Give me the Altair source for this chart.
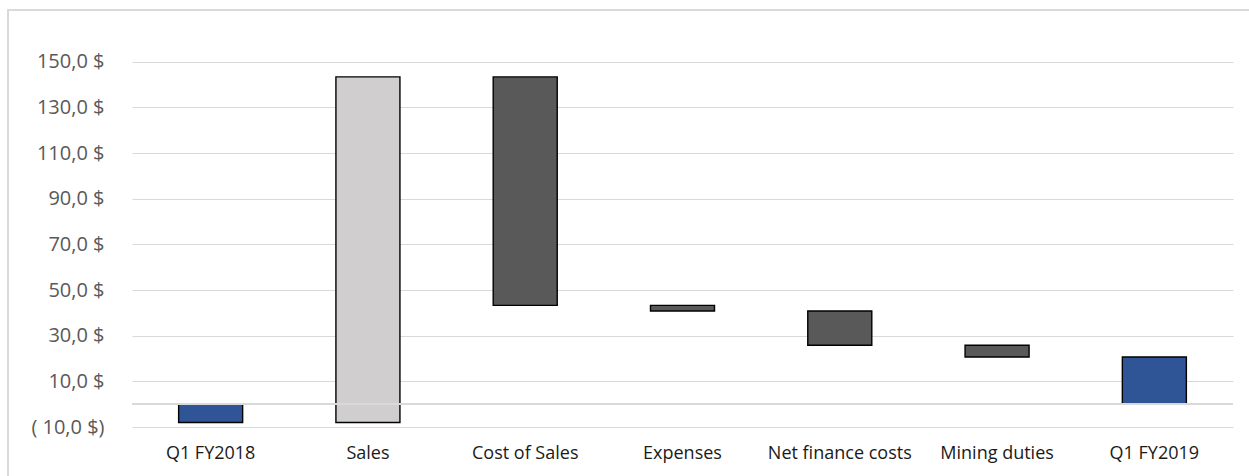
import altair as alt
import pandas as pd

categories = ["Q1 FY2018", "Sales", "Cost of Sales", "Expenses",
              "Net finance costs", "Mining duties", "Q1 FY2019"]
bar_start = [0.0, -8.0, 143.4, 43.3, 40.8, 25.8, 0.0]
bar_end = [-8.0, 143.4, 43.3, 40.8, 25.8, 20.7, 20.7]
kinds = ["total", "increase", "decrease", "decrease", "decrease", "decrease", "total"]
y_ticks = [-10, 10, 30, 50, 70, 90, 110, 130, 150]

df = pd.DataFrame({"cat": categories, "start": bar_start, "end": bar_end, "kind": kinds})

FONT = "Open Sans"
W, H = 1101, 388

label_expr = (
    "datum.value < 0 ? '( ' + replace(format(abs(datum.value), '.1f'), '.', ',') + ' $)'"
    " : replace(format(datum.value, '.1f'), '.', ',') + ' $'"
)

x_enc = alt.X("cat:N", sort=categories, title=None,
              scale=alt.Scale(paddingInner=0.593, paddingOuter=0.2965),
              axis=alt.Axis(labelAngle=0, domain=False, ticks=False, labelFont=FONT,
                            labelFontSize=18, labelColor="#1a1a1a", labelPadding=17,
                            grid=False))
y_scale = alt.Scale(domain=[-10, 160], nice=False, zero=False)

bars = alt.Chart(df).mark_bar(stroke="#000000", strokeWidth=1.4).encode(
    x=x_enc,
    y=alt.Y("start:Q", scale=y_scale, title=None,
            axis=alt.Axis(values=y_ticks, labelExpr=label_expr, domain=False, ticks=False,
                          labelFont=FONT, labelFontSize=20, labelColor="#595959",
                          labelPadding=28, gridColor="#D9D9D9", gridWidth=1.2)),
    y2="end:Q",
    color=alt.Color("kind:N", legend=None,
                    scale=alt.Scale(domain=["total", "increase", "decrease"],
                                    range=["#2F5597", "#D0CECE", "#595959"])),
)

zero_line = alt.Chart(df).mark_rule(color="#D9D9D9", strokeWidth=1.5).encode(
    y=alt.datum(0, scale=y_scale)
)

border = alt.Chart(df).mark_rect(filled=False, stroke="#D9D9D9", strokeWidth=1.2).encode(
    x=alt.value(-124), x2=alt.value(1150), y=alt.value(-29), y2=alt.value(470)
)

chart = alt.layer(border, bars, zero_line).properties(
    width=W, height=H,
    background="white",
    autosize=alt.AutoSizeParams(type="none"),
    padding={"left": 132, "top": 39, "right": 16, "bottom": 49},
).configure_view(strokeWidth=0, stroke="transparent")

chart.save("out.html", embed_options={"renderer": "svg", "actions": False})
